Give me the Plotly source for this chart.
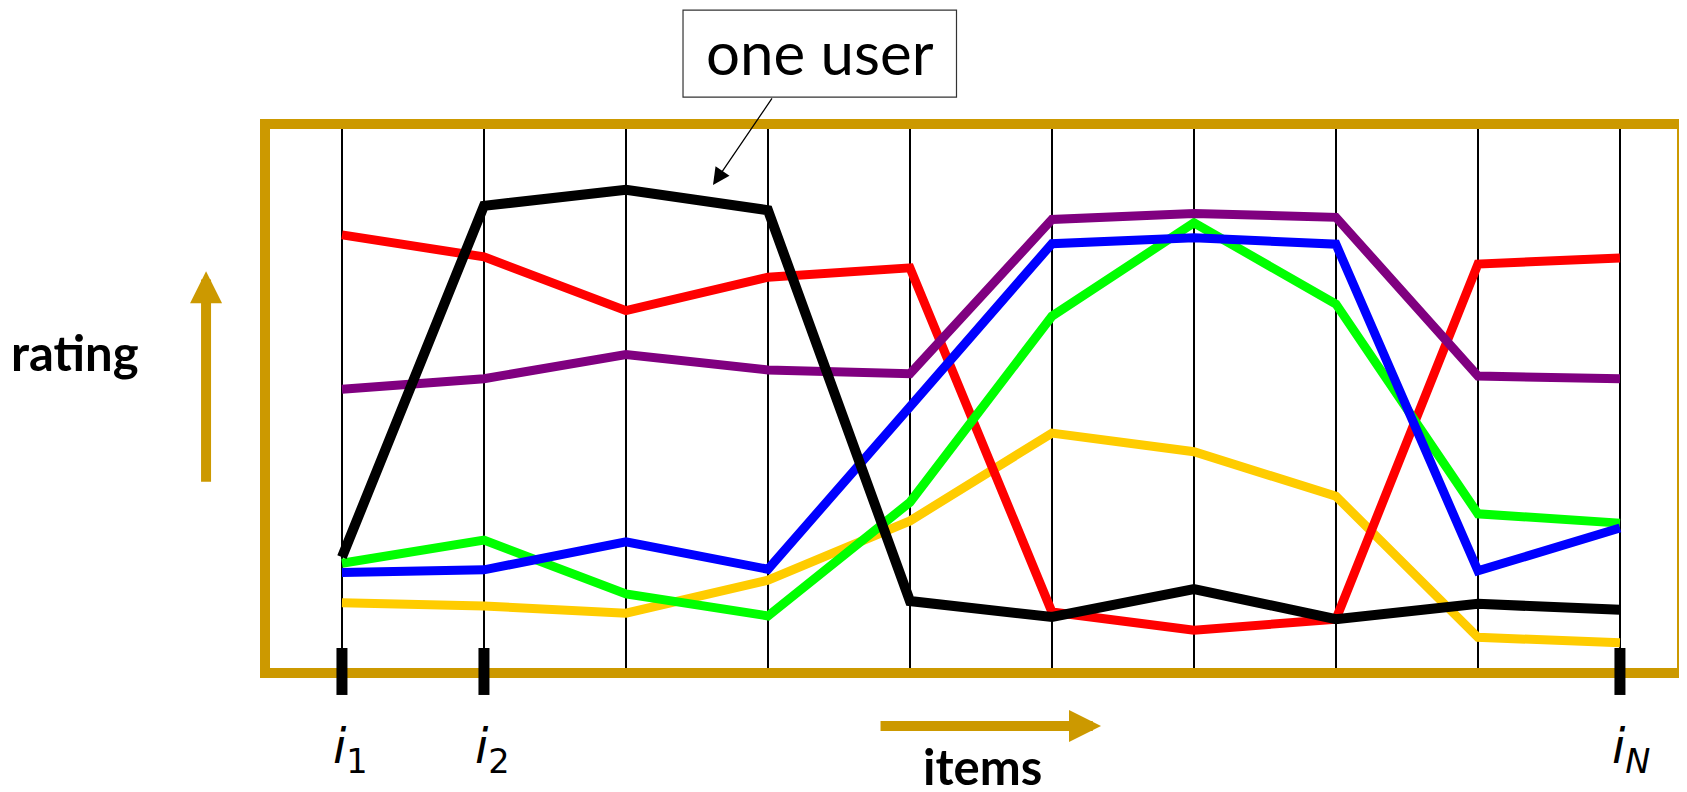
import plotly.graph_objects as go

items = list(range(1, 11))
black_user = [2.11, 8.51, 8.80, 8.43, 1.31, 1.02, 1.53, 0.98, 1.26, 1.15]
red_user = [7.98, 7.58, 6.60, 7.21, 7.38, 1.11, 0.78, 0.98, 7.45, 7.56]
purple_user = [5.17, 5.36, 5.80, 5.52, 5.45, 8.26, 8.37, 8.30, 5.41, 5.36]
blue_user = [1.83, 1.88, 2.39, 1.89, 4.85, 7.82, 7.93, 7.81, 1.86, 2.64]
green_user = [2.00, 2.42, 1.44, 1.04, 3.11, 6.50, 8.20, 6.72, 2.90, 2.73]
yellow_user = [1.28, 1.22, 1.09, 1.69, 2.77, 4.37, 4.03, 3.22, 0.65, 0.55]

tick_items = [1, 2, 10]
tick_labels = ["<i>i</i><sub>1</sub>", "<i>i</i><sub>2</sub>", "<i>i</i><sub><i>N</i></sub>"]

GOLD = "#CC9900"

series = [
    (yellow_user, "#FFCC00", 9),
    (red_user, "#FF0000", 9),
    (green_user, "#00FF00", 9),
    (purple_user, "#800080", 9),
    (blue_user, "#0000FF", 9),
    (black_user, "#000000", 10),
]

fig = go.Figure()
for vals, col, w in series:
    fig.add_trace(go.Scatter(x=items, y=vals, mode="lines",
                             line=dict(color=col, width=w),
                             showlegend=False, hoverinfo="skip"))

# page body has an 8px margin, so the figure is offset by 8px
fig.update_layout(
    width=1679, height=784,
    margin=dict(l=257, r=5, t=116, b=119),
    paper_bgcolor="white", plot_bgcolor="white",
    xaxis=dict(range=[0.458, 10.437], tickvals=items, showticklabels=False,
               showgrid=True, gridcolor="black", gridwidth=1.5,
               zeroline=False, showline=False, ticks=""),
    yaxis=dict(range=[0, 10], showgrid=False, zeroline=False,
               showticklabels=False, showline=False),
)

# gold frame
fig.add_shape(type="rect", xref="paper", yref="paper", x0=0, x1=1, y0=0, y1=1,
              line=dict(color=GOLD, width=10), layer="above")

# thick tick marks and labels
for v, lab in zip(tick_items, tick_labels):
    fig.add_shape(type="line", xref="x", yref="paper", x0=v, x1=v,
                  y0=0.0455, y1=-0.04, line=dict(color="black", width=11), layer="above")
    fig.add_annotation(x=v, y=-0.14, xref="x", yref="paper", text=lab,
                       showarrow=False, xshift=9 if v != 10 else 11,
                       font=dict(family="DejaVu Sans", size=48, color="black"),
                       xanchor="center", yanchor="middle")

# "one user" callout box
fig.add_shape(type="rect", xref="paper", yref="paper", x0=0.295, x1=0.488,
              y0=1.049, y1=1.2075, line=dict(color="#333333", width=1.2),
              fillcolor="white")
fig.add_annotation(x=0.3915, y=1.132, xref="paper", yref="paper", text="one user",
                   showarrow=False, font=dict(family="Lato", size=60, color="black"),
                   xanchor="center", yanchor="middle")
fig.add_annotation(x=3.613, y=8.89, xref="x", yref="y", text="",
                   showarrow=True, ax=60, ay=-88, arrowhead=2, arrowsize=2.6,
                   arrowwidth=1.3, arrowcolor="black")

# rating arrow & label
fig.add_annotation(x=-0.0416, y=0.732, xref="paper", yref="paper", text="",
                   showarrow=True, ax=0, ay=212, arrowhead=2, arrowsize=0.64,
                   arrowwidth=10, arrowcolor=GOLD)
fig.add_annotation(x=-0.134, y=0.585, xref="paper", yref="paper", text="<b>rating</b>",
                   showarrow=False, font=dict(family="Lato", size=49, color="black"),
                   xanchor="center", yanchor="middle")

# items arrow & label
fig.add_annotation(x=0.590, y=-0.0965, xref="paper", yref="paper", text="",
                   showarrow=True, ax=-222, ay=0, arrowhead=2, arrowsize=0.64,
                   arrowwidth=10, arrowcolor=GOLD)
fig.add_annotation(x=0.506, y=-0.170, xref="paper", yref="paper", text="<b>items</b>",
                   showarrow=False, font=dict(family="Lato", size=49, color="black"),
                   xanchor="center", yanchor="middle")

fig.write_html("out.html")
